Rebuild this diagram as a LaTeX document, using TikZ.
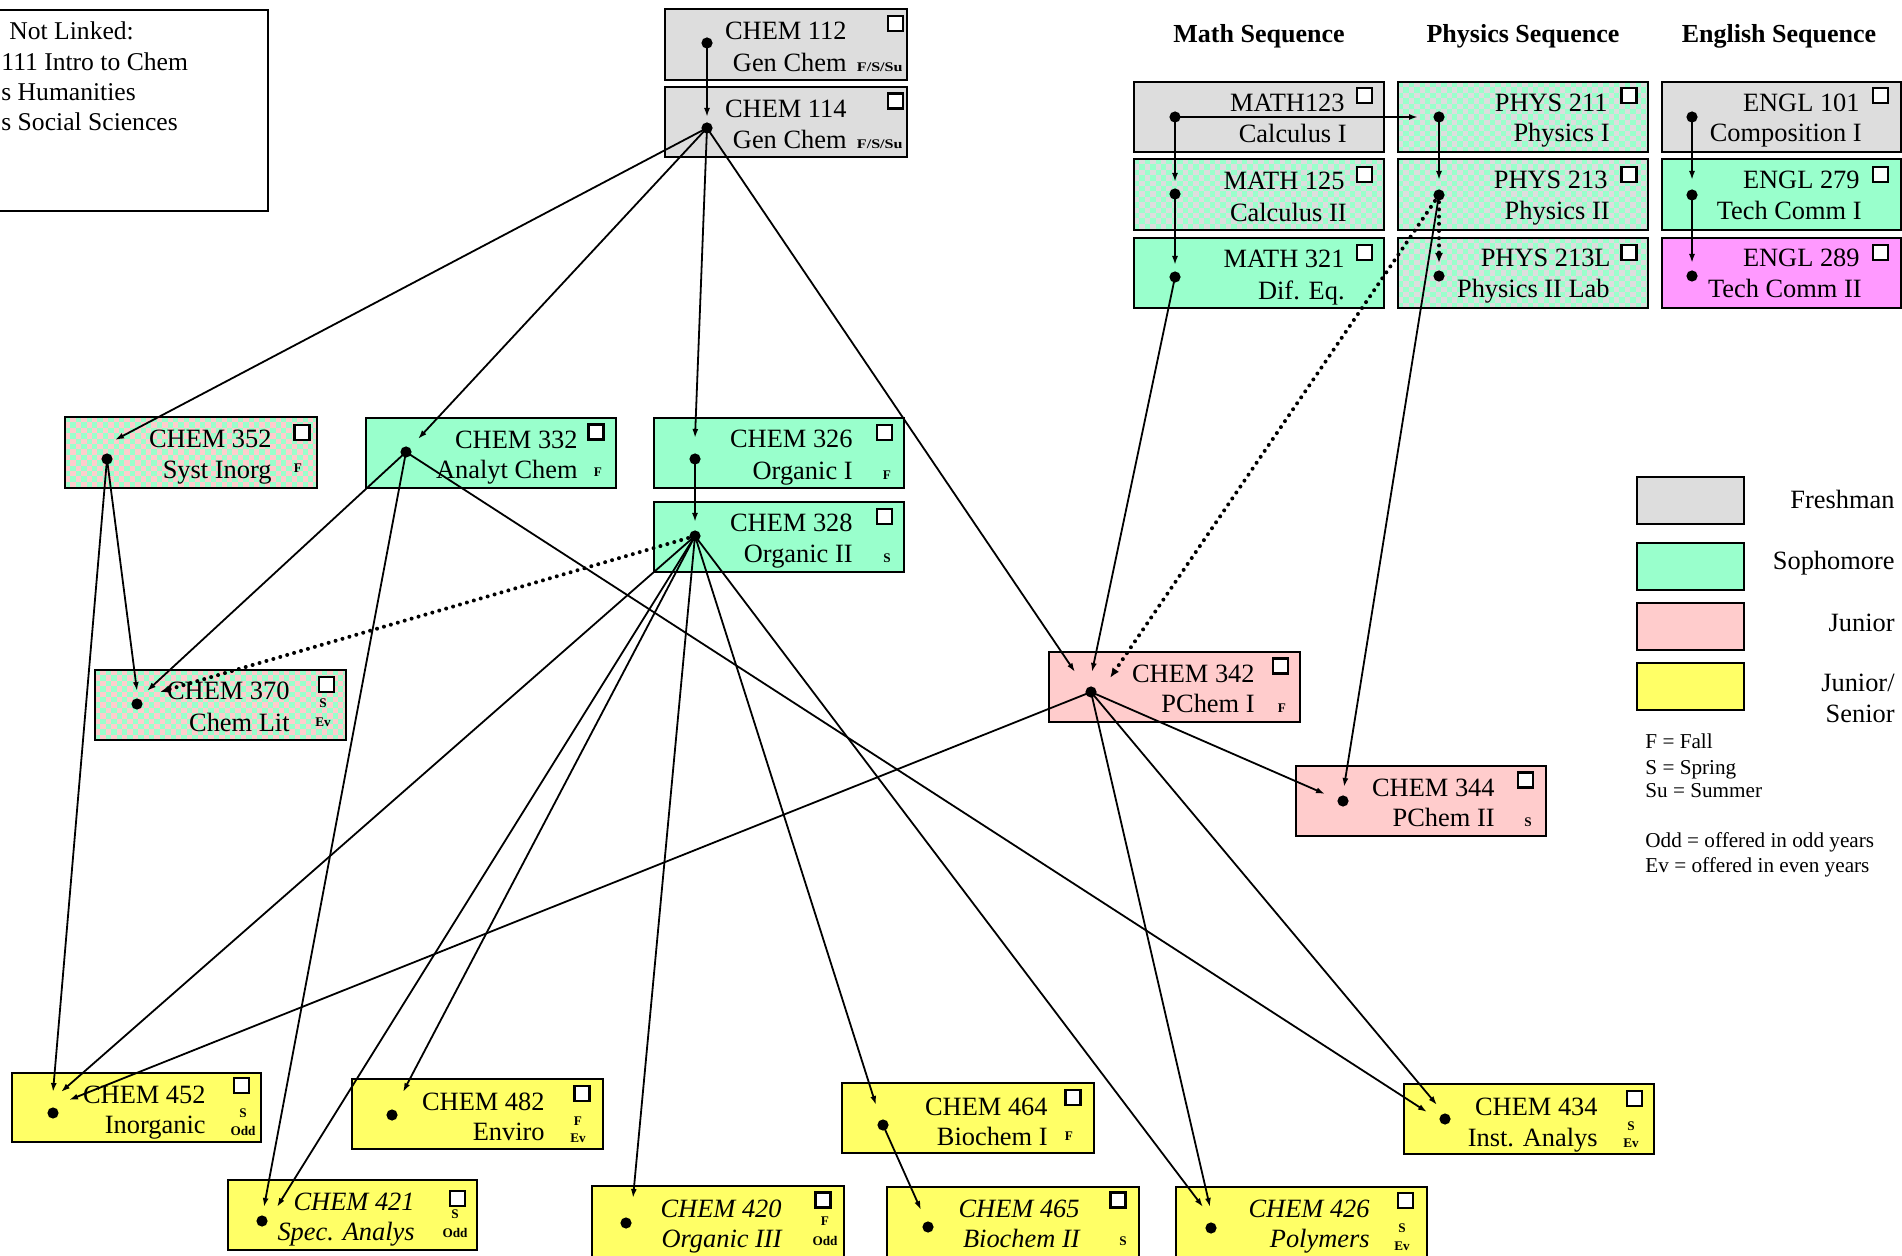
\documentclass[tikz,border=0pt]{standalone}
\usepackage{fontspec}
\setmainfont{Liberation Serif}
\usetikzlibrary{arrows.meta,fit}

\definecolor{cgrey}{HTML}{DDDDDD}
\definecolor{cgreen}{HTML}{99FFCC}
\definecolor{cpink}{HTML}{FFCCCC}
\definecolor{cyel}{HTML}{FFFF66}
\definecolor{cmag}{HTML}{FF99FF}

\tikzset{
 box/.style={draw=black, line width=1.4pt, inner sep=0pt, rectangle},
 fr/.style={box, fill=cgrey},
 so/.style={box, fill=cgreen},
 ju/.style={box, fill=cpink},
 se/.style={box, fill=cyel},
 en/.style={box, fill=cmag},
 ttl/.style={anchor=base east, inner sep=0pt, font=\fontsize{13.2pt}{15pt}\selectfont},
 ttli/.style={anchor=base east, inner sep=0pt, font=\fontsize{13.2pt}{15pt}\selectfont\itshape},
 tg/.style={anchor=base, inner sep=0pt, font=\fontsize{6.6pt}{8pt}\selectfont\bfseries},
 cbox/.style={draw=black, fill=white, line width=1.2pt, minimum size=7.6pt, inner sep=0pt},
 conn/.style={line width=0.9pt, -{Latex[length=4.5pt,width=3pt]}},
 dotconn/.style={line width=2pt, line cap=round, dash pattern=on 0pt off 3.6pt, -{Latex[length=5pt,width=4pt]}},
 hd/.style={anchor=base, inner sep=0pt, font=\fontsize{13pt}{15pt}\selectfont\bfseries},
 lgl/.style={anchor=base east, inner sep=0pt, font=\fontsize{13.2pt}{15pt}\selectfont},
 lgs/.style={anchor=base west, inner sep=0pt, font=\fontsize{10.6pt}{12pt}\selectfont},
 nlt/.style={anchor=base west, inner sep=0pt, font=\fontsize{12.8pt}{14pt}\selectfont},
}

% checkerboard overlay inside a box: x1 y1 x2 y2 colour
\newcommand\chkfill[5]{%
 \begin{scope}
 \clip (#1+1.4,#2+1.4) rectangle (#3-1.4,#4-1.4);
 \foreach \j in {0,...,14} {\foreach \i in {0,...,24} {
   \pgfmathsetmacro\xx{#1+(2*\i+mod(\j,2))*5.4}
   \pgfmathsetmacro\yy{#2+\j*5.4}
   \fill[#5] (\xx,\yy) rectangle ++(5.4,5.4);
 }}
 \end{scope}}

\begin{document}
\begin{tikzpicture}[x=0.5pt, y=-0.5pt]
\useasboundingbox (0,0) rectangle (1902,1256);
\fill[white] (0,0) rectangle (1902,1256);
\clip (0,0) rectangle (1902,1256);

% ---------- Not linked box ----------
\node[box, fit={(-10,10) (268,211)}] (nl) {};
\node[nlt] (nl1) at (9,40) {Not Linked:};
\node[nlt] (nl2) at (1,71) {111 Intro to Chem};
\node[nlt] (nl3) at (1,101) {s Humanities};
\node[nlt] (nl4) at (1,131) {s Social Sciences};

% ---------- headings ----------
\node[hd] (hm) at (1259,43) {Math Sequence};
\node[hd] (hp) at (1523,43) {Physics Sequence};
\node[hd] (he) at (1779,43) {English Sequence};

% ---------- boxes ----------
\node[fr, fit={(665,9) (907,80)}] (b112) {};
\node[ttl] (b112t) at (847,40) {CHEM 112};
\node[ttl] (b112s) at (847,72) {Gen Chem};
\node[tg, anchor=base east] (b112g) at (903,72) {\scalebox{1.22}[1]{F/S/Su}};
\node[cbox] (b112c) at (895.5,23.5) {};

\node[fr, fit={(665,87) (907,157)}] (b114) {};
\node[ttl] (b114t) at (847,118) {CHEM 114};
\node[ttl] (b114s) at (847,149) {Gen Chem};
\node[tg, anchor=base east] (b114g) at (903,149) {\scalebox{1.22}[1]{F/S/Su}};
\node[cbox] (b114c) at (895.5,101) {};

\node[ju, fit={(65,417) (317,488)}] (b352) {};
\chkfill{65}{417}{317}{488}{cgreen}
\node[ttl] (b352t) at (272,448) {CHEM 352};
\node[ttl] (b352s) at (272,479) {Syst Inorg};
\node[tg] (b352g) at (298,473) {F};
\node[cbox] (b352c) at (302,432.5) {};

\node[so, fit={(366,418) (616,488)}] (b332) {};
\node[ttl] (b332t) at (578,449) {CHEM 332};
\node[ttl] (b332s) at (578,479) {Analyt Chem};
\node[tg] (b332g) at (598,477) {F};
\node[cbox] (b332c) at (596,432) {};

\node[so, fit={(654,418) (904,488)}] (b326) {};
\node[ttl] (b326t) at (853,448) {CHEM 326};
\node[ttl] (b326s) at (853,480) {Organic I};
\node[tg] (b326g) at (887,480) {F};
\node[cbox] (b326c) at (884.5,432.5) {};

\node[so, fit={(654,502) (904,572)}] (b328) {};
\node[ttl] (b328t) at (853,532) {CHEM 328};
\node[ttl] (b328s) at (853,563) {Organic II};
\node[tg] (b328g) at (887,563) {S};
\node[cbox] (b328c) at (884.5,516.5) {};

\node[ju, fit={(95,670) (346,740)}] (b370) {};
\chkfill{95}{670}{346}{740}{cgreen}
\node[ttl] (b370t) at (290,700) {CHEM 370};
\node[ttl] (b370s) at (290,732) {Chem Lit};
\node[tg] (b370g) at (323,708) {S};
\node[tg] (b370h) at (323,727) {Ev};
\node[cbox] (b370c) at (326.5,684.5) {};

\node[ju, fit={(1049,652) (1300,722)}] (b342) {};
\node[ttl] (b342t) at (1255,683) {CHEM 342};
\node[ttl] (b342s) at (1255,713) {PChem I};
\node[tg] (b342g) at (1282,713) {F};
\node[cbox] (b342c) at (1280.5,666) {};

\node[ju, fit={(1296,766) (1546,836)}] (b344) {};
\node[ttl] (b344t) at (1495,797) {CHEM 344};
\node[ttl] (b344s) at (1495,827) {PChem II};
\node[tg] (b344g) at (1528,827) {S};
\node[cbox] (b344c) at (1525.5,780) {};

% math
\node[fr, fit={(1134,82) (1384,152)}] (bM123) {};
\node[ttl] (bM123t) at (1345,112) {MATH123};
\node[ttl] (bM123s) at (1347,143) {Calculus I};
\node[cbox] (bM123c) at (1364.5,95.5) {};

\node[fr, fit={(1134,159) (1384,230)}] (bM125) {};
\chkfill{1134}{159}{1384}{230}{cgreen}
\node[ttl] (bM125t) at (1345,190) {MATH 125};
\node[ttl] (bM125s) at (1347,222) {Calculus II};
\node[cbox] (bM125c) at (1364.5,174.5) {};

\node[so, fit={(1134,238) (1384,308)}] (bM321) {};
\node[ttl] (bM321t) at (1345,268) {MATH 321};
\node[ttl] (bM321s) at (1345,300) {Dif. Eq.};
\node[cbox] (bM321c) at (1364.5,252.5) {};

% physics
\node[fr, fit={(1398,82) (1648,152)}] (bP211) {};
\chkfill{1398}{82}{1648}{152}{cgreen}
\node[ttl] (bP211t) at (1608,112) {PHYS 211};
\node[ttl] (bP211s) at (1610,142) {Physics I};
\node[cbox] (bP211c) at (1629,95.5) {};

\node[fr, fit={(1398,159) (1648,230)}] (bP213) {};
\chkfill{1398}{159}{1648}{230}{cgreen}
\node[ttl] (bP213t) at (1608,189) {PHYS 213};
\node[ttl] (bP213s) at (1610,220) {Physics II};
\node[cbox] (bP213c) at (1629,174.5) {};

\node[fr, fit={(1398,238) (1648,308)}] (bP213L) {};
\chkfill{1398}{238}{1648}{308}{cgreen}
\node[ttl] (bP213Lt) at (1611,267) {PHYS 213L};
\node[ttl] (bP213Ls) at (1610,298) {Physics II Lab};
\node[cbox] (bP213Lc) at (1629,252.5) {};

% english
\node[fr, fit={(1662,82) (1901,152)}] (bE101) {};
\node[ttl] (bE101t) at (1860,112) {ENGL 101};
\node[ttl] (bE101s) at (1862,142) {Composition I};
\node[cbox] (bE101c) at (1880.5,95.5) {};

\node[so, fit={(1662,159) (1901,230)}] (bE279) {};
\node[ttl] (bE279t) at (1860,189) {ENGL 279};
\node[ttl] (bE279s) at (1862,220) {Tech Comm I};
\node[cbox] (bE279c) at (1880.5,174.5) {};

\node[en, fit={(1662,238) (1901,308)}] (bE289) {};
\node[ttl] (bE289t) at (1860,267) {ENGL 289};
\node[ttl] (bE289s) at (1862,298) {Tech Comm II};
\node[cbox] (bE289c) at (1880.5,252.5) {};

% bottom row
\node[se, fit={(12,1073) (261,1142)}] (b452) {};
\node[ttl] (b452t) at (206,1103) {CHEM 452};
\node[ttl] (b452s) at (206,1133) {Inorganic};
\node[tg] (b452g) at (243,1117) {S};
\node[tg] (b452h) at (243,1135) {Odd};
\node[cbox] (b452c) at (241.5,1085.5) {};

\node[se, fit={(352,1079) (603,1149)}] (b482) {};
\node[ttl] (b482t) at (545,1110) {CHEM 482};
\node[ttl] (b482s) at (545,1140) {Enviro};
\node[tg] (b482g) at (578,1125) {F};
\node[tg] (b482h) at (578,1142) {Ev};
\node[cbox] (b482c) at (582,1093.5) {};

\node[se, fit={(228,1180) (477,1250)}] (b421) {};
\node[ttli] (b421t) at (415,1210) {CHEM 421};
\node[ttli] (b421s) at (415,1240) {Spec. Analys};
\node[tg] (b421g) at (455,1218) {S};
\node[tg] (b421h) at (455,1237) {Odd};
\node[cbox] (b421c) at (457.5,1198.5) {};

\node[se, fit={(842,1083) (1094,1153)}] (b464) {};
\node[ttl] (b464t) at (1048,1115) {CHEM 464};
\node[ttl] (b464s) at (1048,1145) {Biochem I};
\node[tg] (b464g) at (1069,1140) {F};
\node[cbox] (b464c) at (1073,1097.5) {};

\node[se, fit={(592,1186) (844,1275)}] (b420) {};
\node[ttli] (b420t) at (782,1217) {CHEM 420};
\node[ttli] (b420s) at (782,1247) {Organic III};
\node[tg] (b420g) at (825,1225) {F};
\node[tg] (b420h) at (825,1245) {Odd};
\node[cbox] (b420c) at (823,1200) {};

\node[se, fit={(887,1187) (1139,1275)}] (b465) {};
\node[ttli] (b465t) at (1080,1217) {CHEM 465};
\node[ttli] (b465s) at (1080,1247) {Biochem II};
\node[tg] (b465g) at (1123,1245) {S};
\node[cbox] (b465c) at (1118,1200) {};

\node[se, fit={(1404,1084) (1654,1154)}] (b434) {};
\node[ttl] (b434t) at (1598,1115) {CHEM 434};
\node[ttl] (b434s) at (1598,1146) {Inst. Analys};
\node[tg] (b434g) at (1631,1130) {S};
\node[tg] (b434h) at (1631,1147) {Ev};
\node[cbox] (b434c) at (1634.5,1098.5) {};

\node[se, fit={(1176,1187) (1427,1275)}] (b426) {};
\node[ttli] (b426t) at (1370,1217) {CHEM 426};
\node[ttli] (b426s) at (1370,1247) {Polymers};
\node[tg] (b426g) at (1402,1232) {S};
\node[tg] (b426h) at (1402,1250) {Ev};
\node[cbox] (b426c) at (1405.5,1200.5) {};

% ---------- legend ----------
\node[fr, fit={(1637,477) (1744,524)}] (lg1) {};
\node[so, fit={(1637,543) (1744,590)}] (lg2) {};
\node[ju, fit={(1637,603) (1744,650)}] (lg3) {};
\node[se, fit={(1637,663) (1744,710)}] (lg4) {};
\node[lgl] (lg1t) at (1895,509) {Freshman};
\node[lgl] (lg2t) at (1895,570) {Sophomore};
\node[lgl] (lg3t) at (1895,632) {Junior};
\node[lgl] (lg4t) at (1895,692) {Junior/};
\node[lgl] (lg4s) at (1895,723) {Senior};
\node[lgs] (k1) at (1645,748) {F = Fall};
\node[lgs] (k2) at (1645,775) {S = Spring};
\node[lgs] (k3) at (1645,798) {Su = Summer};
\node[lgs] (k4) at (1645,848) {Odd = offered in odd years};
\node[lgs] (k5) at (1645,872) {Ev = offered in even years};

% ---------- dot coordinates ----------
\coordinate (d112) at (707,43);
\coordinate (d114) at (707,128);
\coordinate (d352) at (107,459);
\coordinate (d332) at (406,452);
\coordinate (d326) at (695,459);
\coordinate (d328) at (695,536);
\coordinate (d370) at (137,704);
\coordinate (d342) at (1091,692);
\coordinate (d344) at (1343,801);
\coordinate (dM123) at (1175,117);
\coordinate (dM125) at (1175,194);
\coordinate (dM321) at (1175,277);
\coordinate (dP211) at (1439,117);
\coordinate (dP213) at (1439,195);
\coordinate (dP213L) at (1439,276);
\coordinate (dE101) at (1692,117);
\coordinate (dE279) at (1692,195);
\coordinate (dE289) at (1692,276);
\coordinate (d452) at (53,1113);
\coordinate (d482) at (392,1115);
\coordinate (d421) at (262,1221);
\coordinate (d464) at (883,1125);
\coordinate (d420) at (626,1223);
\coordinate (d465) at (928,1227);
\coordinate (d434) at (1445,1119);
\coordinate (d426) at (1211,1228);

% ---------- arrow tip coordinates ----------
\coordinate (t114) at (707,117);
\coordinate (t352) at (115,440);
\coordinate (t332) at (418,439);
\coordinate (t326) at (695,438);
\coordinate (t342a) at (1075,672);
\coordinate (t370a) at (137,691);
\coordinate (t452a) at (53,1092);
\coordinate (t370b) at (147,691);
\coordinate (t421a) at (264,1207);
\coordinate (t434a) at (1427,1112);
\coordinate (t328) at (695,522);
\coordinate (t370c) at (160,692);
\coordinate (t452b) at (61,1092);
\coordinate (t421b) at (277,1207);
\coordinate (t482) at (403,1092);
\coordinate (t420) at (633,1198);
\coordinate (t464) at (876,1105);
\coordinate (t426a) at (1203,1207);
\coordinate (t452c) at (69,1100);
\coordinate (t344a) at (1325,794);
\coordinate (t426b) at (1210,1207);
\coordinate (t434b) at (1437,1105);
\coordinate (t342b) at (1092,672);
\coordinate (t342c) at (1110,678);
\coordinate (t344b) at (1344,787);
\coordinate (tP213L) at (1439,263);
\coordinate (tP213) at (1439,180);
\coordinate (tP211) at (1418,117);
\coordinate (tM125) at (1175,182);
\coordinate (tM321) at (1175,265);
\coordinate (tE279) at (1692,180);
\coordinate (tE289) at (1692,263);
\coordinate (t465) at (921,1210);

% ---------- connectors ----------
\draw[conn] (d112) -- (t114);
\draw[conn] (d114) -- (t352);
\draw[conn] (d114) -- (t332);
\draw[conn] (d114) -- (t326);
\draw[conn] (d114) -- (t342a);
\draw[conn] (d352) -- (t370a);
\draw[conn] (d352) -- (t452a);
\draw[conn] (d332) -- (t370b);
\draw[conn] (d332) -- (t421a);
\draw[conn] (d332) -- (t434a);
\draw[conn] (d326) -- (t328);
\draw[dotconn] (d328) -- (t370c);
\draw[conn] (d328) -- (t452b);
\draw[conn] (d328) -- (t421b);
\draw[conn] (d328) -- (t482);
\draw[conn] (d328) -- (t420);
\draw[conn] (d328) -- (t464);
\draw[conn] (d328) -- (t426a);
\draw[conn] (d342) -- (t452c);
\draw[conn] (d342) -- (t344a);
\draw[conn] (d342) -- (t426b);
\draw[conn] (d342) -- (t434b);
\draw[conn] (dM321) -- (t342b);
\draw[dotconn] (dP213) -- (t342c);
\draw[conn] (dP213) -- (t344b);
\draw[dotconn] (dP213) -- (tP213L);
\draw[conn] (dP211) -- (tP213);
\draw[conn] (dM123) -- (tP211);
\draw[conn] (dM123) -- (tM125);
\draw[conn] (dM125) -- (tM321);
\draw[conn] (dE101) -- (tE279);
\draw[conn] (dE279) -- (tE289);
\draw[conn] (d464) -- (t465);

% ---------- dots ----------
\foreach \d in {d112,d114,d352,d332,d326,d328,d370,d342,d344,dM123,dM125,dM321,dP211,dP213,dP213L,dE101,dE279,dE289,d452,d482,d421,d464,d420,d465,d434,d426}
  \fill[black] (\d) circle[radius=2.8pt];
\end{tikzpicture}
\end{document}
